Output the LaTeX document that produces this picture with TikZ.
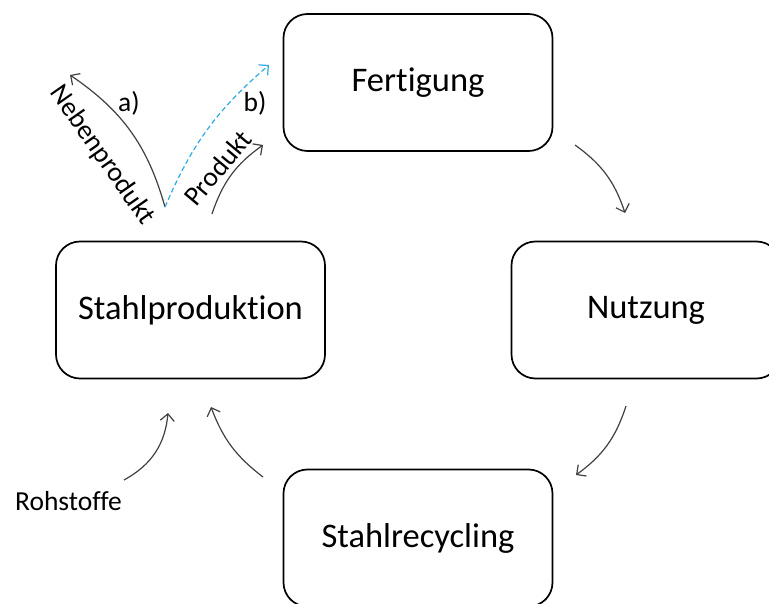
\documentclass[tikz,border=0pt]{standalone}
\usepackage{fontspec}
\setmainfont{Carlito}[Ligatures=NoCommon]
\usetikzlibrary{arrows.meta}
\definecolor{flowblue}{RGB}{46,170,230}
\definecolor{flowgray}{RGB}{64,64,64}
\begin{document}
\begin{tikzpicture}[x=1pt,y=1pt,
  box/.style={draw=black, line width=1.7pt, rounded corners=24pt, minimum width=269pt, minimum height=137pt, inner sep=0pt, font=\fontsize{34.5}{41}\selectfont},
  lbl/.style={inner sep=0pt, font=\fontsize{27.5}{33}\selectfont},
  flow/.style={draw=flowgray, line width=1.2pt, -{Straight Barb[length=7pt,width=14pt]}},
  dashflow/.style={draw=flowblue, line width=1.2pt, dash pattern=on 5pt off 3pt, -{Straight Barb[length=7pt,width=14pt]}}]
\useasboundingbox (0,0) rectangle (769,-604);
\begin{scope}
\clip (0,0) rectangle (769,-604);
% boxes
\node[box] (fert) at (418,-82.5) {Fertigung};
\node[box] (prod) at (190.5,-310) {Stahlproduktion};
\node[box] (nutz) at (646,-310) {Nutzung};
\node[box] (recy) at (418,-538) {Stahlrecycling};
% free ends
\coordinate (a1s) at (575,-145);
\coordinate (a1e) at (625,-213);
\coordinate (a2s) at (626,-406);
\coordinate (a2e) at (576,-475);
\coordinate (a3s) at (263,-477);
\coordinate (a3e) at (211,-407);
\coordinate (a4s) at (124,-480);
\coordinate (a4e) at (168,-413);
\coordinate (a5s) at (165,-207);
\coordinate (a5e) at (70,-75);
\coordinate (a6e) at (269,-65);
\coordinate (a7s) at (212,-214);
\coordinate (a7e) at (263,-145);
% labels
\node[lbl, anchor=base] (roh) at (68.5,-510) {Rohstoffe};
\node[lbl, anchor=base] (la) at (129,-112) {a)};
\node[lbl, anchor=base] (lb) at (255,-112) {b)};
\node[lbl, rotate=-55] (neben) at (102,-155) {Nebenprodukt};
\node[lbl, rotate=50] (produkt) at (218,-168) {Produkt};
% connectors
\draw[flow] (a1s) to[bend left=18] (a1e);
\draw[flow] (a2s) to[bend left=18] (a2e);
\draw[flow] (a3s) to[bend left=16] (a3e);
\draw[flow] (a4s) to[bend right=28] (a4e);
\draw[flow] (a5s) to[bend right=20] (a5e);
\draw[dashflow] (a5s) to[bend left=13] (a6e);
\draw[flow] (a7s) to[bend left=18] (a7e);
\end{scope}
\end{tikzpicture}
\end{document}
